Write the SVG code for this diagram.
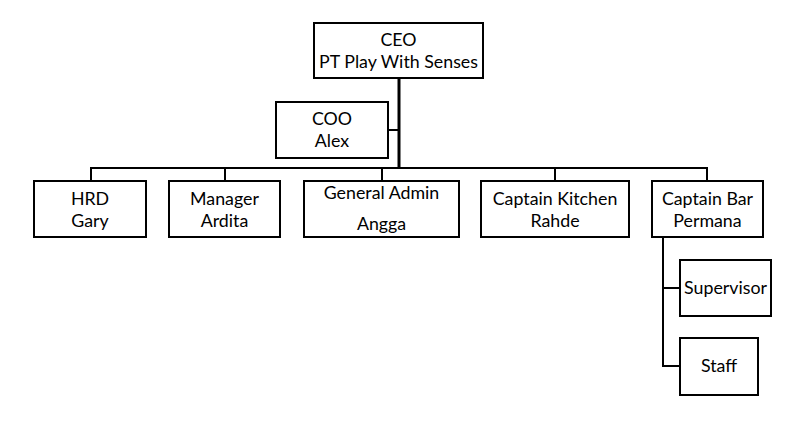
<svg xmlns="http://www.w3.org/2000/svg" width="801" height="428" viewBox="0 0 801 428">
<style>
.box{fill:#fff;stroke:#000;stroke-width:2}
text{font-family:Lato,"Open Sans",sans-serif;font-size:17.8px;fill:#000;text-anchor:middle}
.c{fill:none;stroke:#000}
</style>
<rect width="801" height="428" fill="#fff"/>
<g id="connectors">
<line class="c" x1="399" y1="78" x2="399" y2="168" stroke-width="3"/>
<line class="c" x1="388" y1="130" x2="399" y2="130" stroke-width="2"/>
<line class="c" x1="91" y1="168" x2="708" y2="168" stroke-width="2" stroke="#333"/>
<line class="c" x1="91" y1="167" x2="91" y2="181" stroke-width="2"/>
<line class="c" x1="225" y1="167" x2="225" y2="181" stroke-width="2"/>
<line class="c" x1="382" y1="167" x2="382" y2="181" stroke-width="2"/>
<line class="c" x1="555" y1="167" x2="555" y2="181" stroke-width="2"/>
<line class="c" x1="707" y1="167" x2="707" y2="181" stroke-width="2"/>
<polyline class="c" points="663,237 663,366 680,366" stroke-width="2"/>
<line class="c" x1="663" y1="288" x2="680" y2="288" stroke-width="2"/>
</g>
<g id="ceo"><rect class="box" x="314" y="23" width="169" height="55"/><text x="398.5" y="46">CEO</text><text x="398.5" y="68">PT Play With Senses</text></g>
<g id="coo"><rect class="box" x="276" y="102" width="112" height="56"/><text x="332" y="125">COO</text><text x="332" y="147">Alex</text></g>
<g id="hrd"><rect class="box" x="34" y="181" width="112" height="56"/><text x="90" y="205">HRD</text><text x="90" y="227">Gary</text></g>
<g id="manager"><rect class="box" x="169" y="181" width="111" height="56"/><text x="224.5" y="205">Manager</text><text x="224.5" y="227">Ardita</text></g>
<g id="general-admin"><rect class="box" x="304" y="181" width="155" height="56"/><text x="381.5" y="199">General Admin</text><text x="381.5" y="230">Angga</text></g>
<g id="captain-kitchen"><rect class="box" x="481" y="181" width="148" height="56"/><text x="555" y="205">Captain Kitchen</text><text x="555" y="227">Rahde</text></g>
<g id="captain-bar"><rect class="box" x="652" y="181" width="111" height="56"/><text x="707.5" y="205">Captain Bar</text><text x="707.5" y="227">Permana</text></g>
<g id="supervisor"><rect class="box" x="680" y="260" width="91" height="56"/><text x="725.5" y="294">Supervisor</text></g>
<g id="staff"><rect class="box" x="680" y="338" width="78" height="57"/><text x="719" y="372">Staff</text></g>
</svg>
